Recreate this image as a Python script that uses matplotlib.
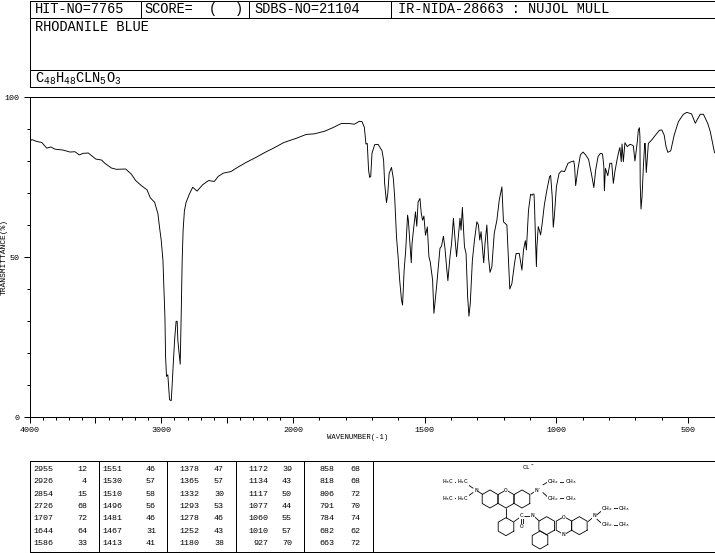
import numpy as np
import matplotlib
matplotlib.use('Agg')
import matplotlib.pyplot as plt

plt.rcParams['font.family'] = ['Liberation Mono', 'DejaVu Sans Mono']
plt.rcParams['path.simplify'] = False

# spectrum: wavenumber (1/cm), transmittance (%)
wavenumber = [
	4000,3982,3945,3907,3869,3839,3806,3743,3693,3655,3622,3592,3554,3496,3453,3428,3378,3340,3270,3227,
	3194,3151,3108,3083,3050,3025,3013,3000,2987,2980,2972,2967,2960,2950,2937,2924,2917,2907,2897,2887,
	2879,2874,2864,2856,2849,2841,2834,2824,2811,2786,2761,2728,2685,2640,2597,2567,2529,2471,2421,2358,
	2282,2207,2144,2068,1987,1950,1918,1880,1849,1817,1786,1767,1748,1738,1729,1723,1718,1713,
	1709,1705,1700,1690,1677,1662,1656,1652,1645,1640,1635,1626,1619,1614,1607,1601,1595,1588,1584,1578,
	1572,1565,1562,1556,1551,1548,1542,1535,1530,1525,1518,1513,1508,1503,1497,1490,1484,1479,1470,1465,
	1455,1442,1436,1429,1423,1417,1412,1404,1398,1391,1386,1379,1366,1362,1357,1349,1343,1337,1332,1327,
	1319,1311,1302,1296,1291,1286,1276,1271,1264,1258,1252,1245,1236,1226,1217,1207,1201,1188,1182,1177,
	1169,1159,1153,1141,1131,1125,1118,1114,1106,1098,1092,1089,1085,1083,
	1079,1076,1074,1069,1064,1060,1054,1046,1036,1026,1022,1016,1012,1008,1000,990,981,969,956,943,
	934,931,927,918,909,899,889,878,870,863,858,851,842,833,825,820,818,814,805,797,
	790,784,778,769,762,759,754,751,746,740,731,721,713,708,702,693,689,685,683,682,
	679,675,670,665,663,659,651,638,622,609,600,591,584,577,566,553,537,518,505,487,
	473,463,454,442,426,416,400]
transmittance = [
	86.1,86.7,86.1,85.8,84.0,84.4,83.7,83.4,82.8,82.9,81.9,82.4,82.5,80.6,80.3,79.3,77.8,77.4,77.5,75.9,
	73.9,72.3,71.0,68.5,67.1,63.5,59.3,55.2,49.0,40.6,31.3,18.9,12.7,13.2,5.4,5.1,10.1,18.0,24.9,29.9,
	29.9,24.0,19.8,16.5,30.8,49.0,58.3,64.5,67.1,69.7,71.8,70.6,72.6,73.9,73.6,75.2,76.2,76.7,78.0,79.5,
	81.1,82.8,84.1,85.8,87.1,88.3,88.5,89.3,90.4,91.7,91.7,91.5,92.4,92.3,90.5,85.3,85.5,77.2,
	74.9,75.1,82.4,85.1,85.2,83.2,80.3,73.0,67.0,69.9,76.1,78.0,74.5,68.8,56.3,50.1,42.8,36.5,35.0,45.9,
	52.2,63.1,61.5,54.2,48.2,54.2,58.9,64.1,59.6,67.2,68.3,63.6,61.5,62.8,56.8,59.4,50.1,48.5,42.8,32.4,
	40.7,52.7,53.4,56.5,52.7,46.9,42.6,50.1,54.2,62.1,56.8,50.1,62.1,58.4,65.5,53.2,51.1,37.6,31.5,35.5,
	49.0,55.3,61.0,60.0,55.3,57.9,48.2,54.2,60.0,50.1,45.2,47.0,57.4,61.5,67.8,71.9,61.0,60.0,49.0,40.0,
	41.7,48.0,51.1,51.1,45.9,52.2,55.1,52.2,64.6,69.6,69.3,69.7,69.6,65.7,
	54.3,47.0,53.2,59.5,58.2,56.9,60.5,66.2,71.0,75.1,75.5,68.9,59.3,62.6,72.0,76.1,76.9,76.7,79.3,79.8,
	80.0,78.2,72.3,77.7,81.9,82.8,81.9,80.5,77.2,74.1,71.7,77.2,81.4,82.4,82.2,78.2,70.7,77.7,75.4,79.3,
	79.3,73.0,76.7,80.8,83.4,84.2,79.8,85.3,79.8,85.7,84.5,85.2,85.0,84.7,80.0,86.0,89.7,90.4,87.6,73.0,
	65.0,68.9,78.2,85.5,85.5,76.4,85.5,86.6,88.3,89.6,89.7,88.1,84.5,82.7,83.2,88.1,92.3,94.6,95.2,94.7,
	91.8,93.3,94.6,94.6,91.8,89.2,82.6]

x_major = [4000,3500,3000,2500,2000,1500,1000,500]
x_labels = ['4000','','3000','','2000','1500','1000','500']
x_minor = list(range(500,4000,100))
y_major = [0,50,100]
y_minor = list(range(10,100,10))

# peak table, one column per box
peak_cols = [
	[('2955',12),('2926',4),('2854',15),('2726',68),('1707',72),('1644',64),('1586',33)],
	[('1551',46),('1530',57),('1510',58),('1496',56),('1481',46),('1467',31),('1413',41)],
	[('1378',47),('1365',57),('1332',30),('1293',53),('1278',46),('1252',43),('1180',38)],
	[('1172',39),('1134',43),('1117',50),('1077',44),('1060',55),('1010',57),('927',70)],
	[('858',68),('818',68),('806',72),('791',70),('784',74),('682',62),('663',72)],
]

def fwd(w):
	w = np.asarray(w,dtype=float)
	return np.where(w > 2000, w/2+1000, w)

def inv(u):
	u = np.asarray(u,dtype=float)
	return np.where(u > 2000, (u-1000)*2, u)

W, H = 715, 553
fig = plt.figure(figsize=(W/100,H/100),dpi=100)

ax = fig.add_axes([29.5/W,(H-417)/H,685/W,320/H])
ax.set_xscale('function',functions=(fwd,inv))
ax.plot(wavenumber,transmittance,color='k',lw=0.65)
ax.set_xlim(4000,400)
ax.set_ylim(0,100)
ax.set_xticks(x_major)
ax.set_xticklabels(x_labels)
ax.set_xticks(x_minor,minor=True)
ax.set_yticks(y_major)
ax.set_yticklabels(['0','50','100'])
ax.set_yticks(y_minor,minor=True)
ax.tick_params(which='major',length=4,width=0.72,labelsize=6,pad=3)
ax.tick_params(which='minor',length=2.5,width=0.72)
for s in ax.spines.values(): s.set_linewidth(0.72)
ax.set_xlabel('WAVENUMBER(-1)',fontsize=5.2)
ax.xaxis.set_label_coords((358-29.5)/685,-0.052)

# overlay in pixel coordinates for the boxes and the structure
ov = fig.add_axes([0,0,1,1])
ov.set_xlim(0,W)
ov.set_ylim(H,0)
ov.axis('off')
ov.patch.set_alpha(0)

ov.text(4.5,257,'TRANSMITTANCE(%)',fontsize=5.8,rotation=90,ha='center',va='center')

def seg(x0,y0,x1,y1,lw=0.72):
	ov.plot([x0,x1],[y0,y1],color='k',lw=lw,solid_capstyle='butt')

def box(x0,y0,x1,y1):
	ov.plot([x0,x1,x1,x0,x0],[y0,y0,y1,y1,y0],color='k',lw=0.72)

box(29.5,0.5,714.5,87)
seg(29.5,17.5,714.5,17.5)
seg(29.5,69.5,714.5,69.5)
for x in [140.5,248.5,390.5]: seg(x,0.5,x,17.5)

head = dict(fontsize=9.8,va='baseline',ha='left')
ov.text(35,13,'HIT-NO=7765',**head)
ov.text(144,13,'SCORE=',**head)
ov.text(209,13,'(',**head)
ov.text(235,13,')',**head)
ov.text(254,13,'SDBS-NO=21104',**head)
ov.text(398,13,'IR-NIDA-28663 : NUJOL MULL',**head)
ov.text(35,31,'RHODANILE BLUE',**head)
ov.text(35,83,r'$\mathregular{C_{48}H_{48}CLN_5O_3}$',**head)

# peak table
box(29.5,460.5,714.5,552)
for x in [98.5,166.5,235.5,303.5,372.5]: seg(x,460.5,x,552)
row_y = [469.5,481.5,494,506.5,519,531.5,543.5]
col_x = [(53,87),(122,156),(199,224),(268,292),(334,360)]
for col,(xa,xb) in zip(peak_cols,col_x):
	for (a,b),y in zip(col,row_y):
		ov.text(xa,y,a,fontsize=6,ha='right',va='center')
		ov.text(xb,y,str(b),fontsize=6,ha='right',va='center')

# structure, centre and bond positions taken in 3x crop units
def sx(v): return 420+v/3
def sy(v): return 455+v/3

def ring(cx,cy,r=27):
	ang = np.radians(np.arange(30,391,60))
	ov.plot(sx(cx+r*np.cos(ang)),sy(cy+r*np.sin(ang)),color='k',lw=0.6)

for c in [(210,132),(258,132),(306,132),(258,215),(380,212),(432,212),(478,212),(360,255)]:
	ring(*c)

bonds = [(98,80,112,80),(98,130,112,130),(142,88,160,100),(142,125,160,112),(172,108,188,118),
	(358,100,332,118),(368,90,385,80),(368,112,385,128),(412,80,438,80),(412,128,438,128),
	(258,160,258,190),(282,200,302,185),(312,182,332,182),(302,185,302,212),(308,185,308,212),(342,184,358,198),
	(504,200,518,188),(530,180,548,165),(530,192,548,208),(572,160,600,160),(572,210,600,210)]
for b in bonds: seg(sx(b[0]),sy(b[1]),sx(b[2]),sy(b[3]),lw=0.6)

h3c = r'$\mathregular{H_3C}$'
h2c = r'$\mathregular{H_2C}$'
ch2 = r'$\mathregular{CH_2}$'
ch3 = r'$\mathregular{CH_3}$'
chem = [(325,35,r'$\mathregular{CL^-}$'),(85,80,h3c),(128,80,h2c),(85,130,h3c),(128,130,h2c),(168,105,'N'),
	(258,108,'O'),(350,105,'N'),(400,80,ch2),(452,80,ch3),(400,130,ch2),(452,130,ch3),
	(304,182,'C'),(304,216,'O'),(338,182,'N'),(432,188,'O'),(430,240,'N'),(522,182,'N'),
	(562,160,ch2),(612,160,ch3),(562,210,ch2),(612,210,ch3)]
for cx,cy,s in chem:
	ov.text(sx(cx),sy(cy),s,fontsize=4.5,ha='center',va='center',
		bbox=dict(fc='w',ec='none',pad=0.3))

fig.savefig('out.png',dpi=100)
